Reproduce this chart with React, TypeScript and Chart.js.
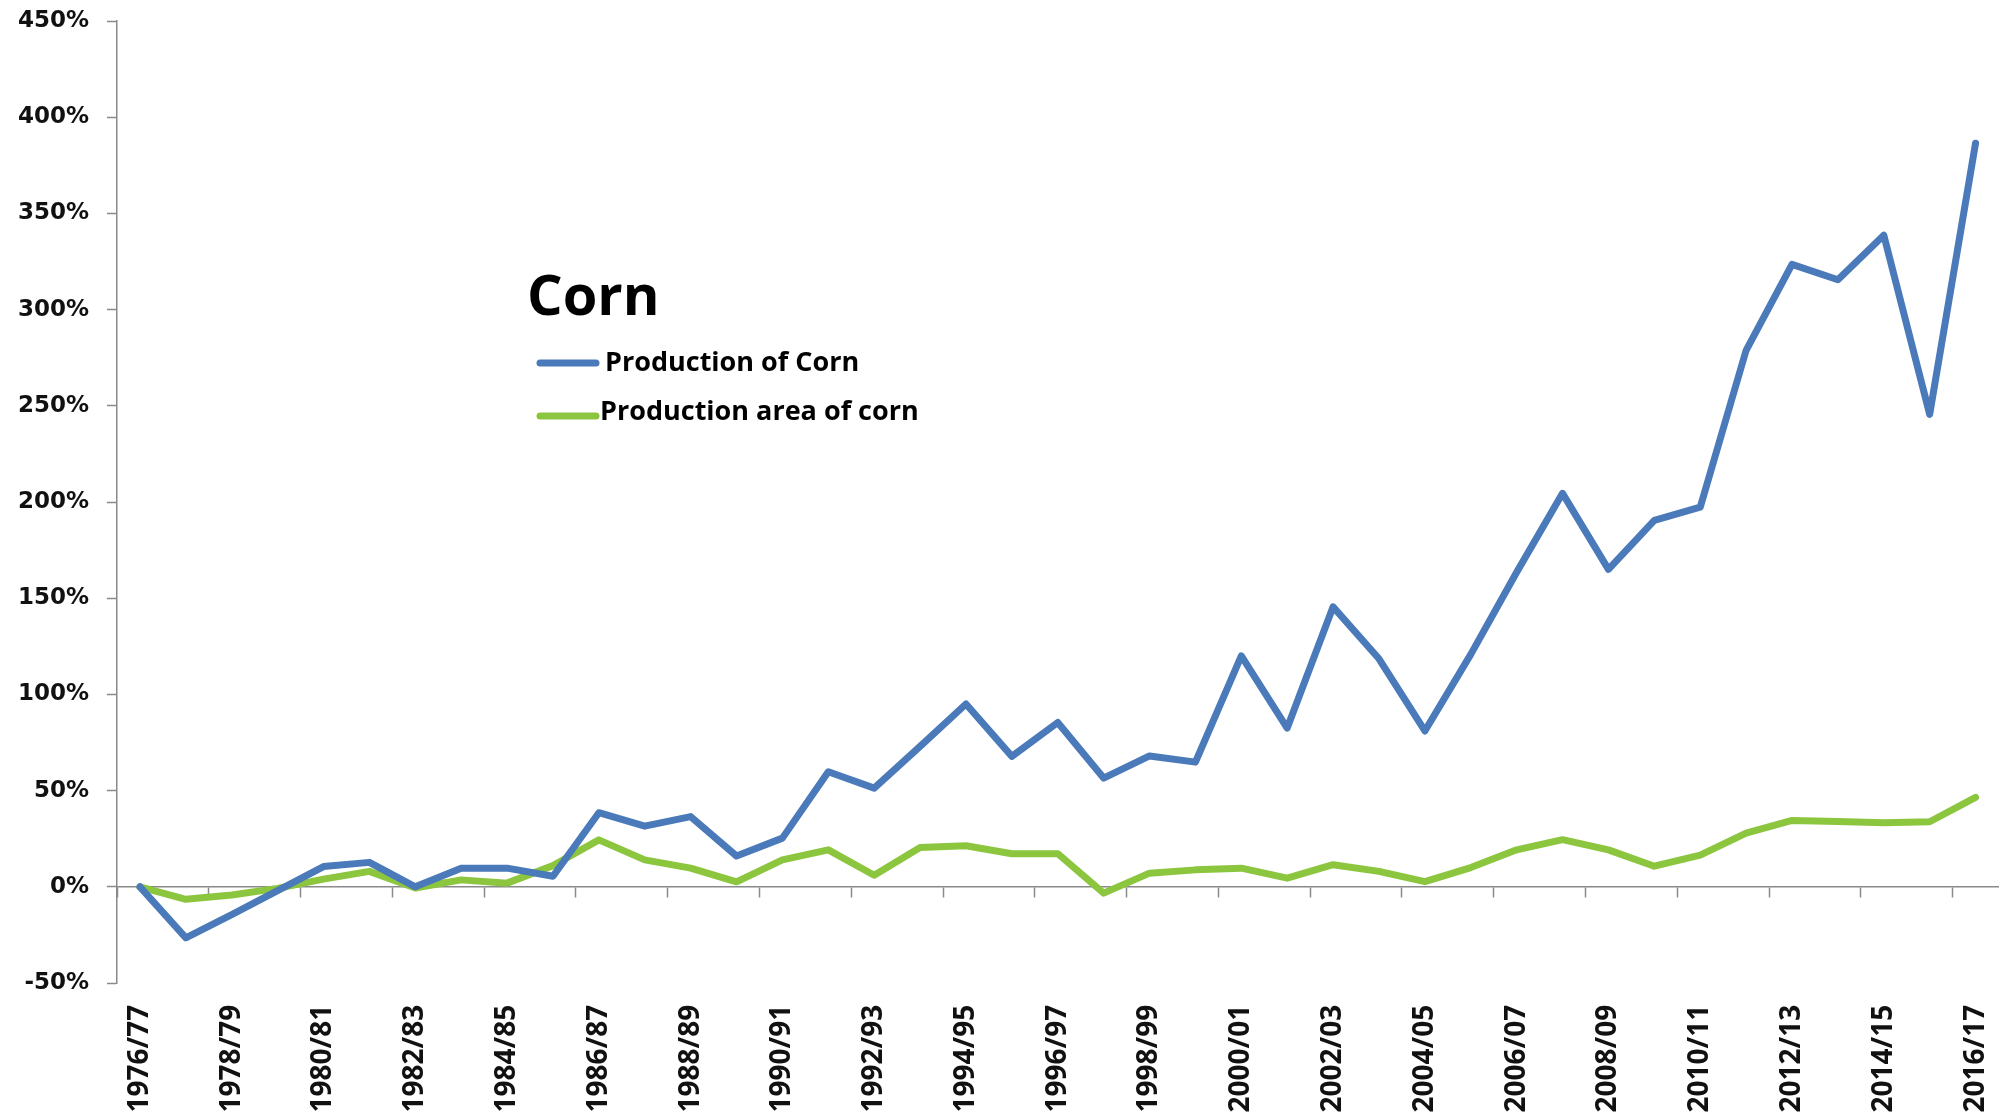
import React, { useEffect, useRef } from "react";
import { Chart, registerables } from "chart.js";

Chart.register(...registerables);

const categories = [
  "1976/77", "1977/78", "1978/79", "1979/80", "1980/81", "1981/82", "1982/83",
  "1983/84", "1984/85", "1985/86", "1986/87", "1987/88", "1988/89", "1989/90",
  "1990/91", "1991/92", "1992/93", "1993/94", "1994/95", "1995/96", "1996/97",
  "1997/98", "1998/99", "1999/00", "2000/01", "2001/02", "2002/03", "2003/04",
  "2004/05", "2005/06", "2006/07", "2007/08", "2008/09", "2009/10", "2010/11",
  "2011/12", "2012/13", "2013/14", "2014/15", "2015/16", "2016/17",
];

const productionOfCorn = [
  0, -26.5, -14.5, -2, 10.5, 12.7, 0, 9.6, 9.7, 5.5, 38.5, 31.5, 36.5, 16, 25.3,
  59.8, 51.3, 73, 95, 67.8, 85.4, 56.5, 68, 64.8, 120, 82.5, 145.5, 118.5, 81,
  120.8, 163.5, 204.5, 165, 190.5, 197.3, 278.8, 323.5, 315.5, 338.7, 245.5, 386.5,
];

const productionAreaOfCorn = [
  0, -6.5, -4.3, -0.8, 4, 8, -0.6, 3.6, 1.9, 11, 24.4, 14, 9.7, 2.6, 14, 19.2, 6,
  20.4, 21.3, 17.2, 17.2, -3.3, 7.1, 8.8, 9.7, 4.5, 11.5, 8, 2.7, 10, 19.2, 24.5,
  19.2, 10.7, 16.5, 27.9, 34.5, 34, 33.3, 33.8, 46.5,
];

const seriesNames = ["Production of Corn", "Production area of corn"];
const chartTitle = "Corn";
const yTicks = { min: -50, max: 450, step: 50 };

const BLUE = "#4a7ab9";
const GREEN = "#8cc63f";
const AXIS = "#8a8a8a";

const titleLegendPlugin = {
  id: "titleLegend",
  afterDraw(chart: any) {
    const ctx = chart.ctx;
    ctx.save();
    ctx.fillStyle = "#000";
    ctx.textAlign = "left";
    ctx.textBaseline = "alphabetic";
    ctx.font = 'bold 56px "Open Sans"';
    ctx.fillText(chartTitle, 527, 315);
    const items = [
      { x1: 540, x2: 596, y: 363, tx: 605, ty: 371 },
      { x1: 540, x2: 596, y: 416, tx: 600, ty: 420 },
    ];
    chart.data.datasets.forEach((ds: any, i: number) => {
      const it = items[i];
      ctx.strokeStyle = ds.borderColor;
      ctx.lineWidth = 7;
      ctx.lineCap = "round";
      ctx.beginPath();
      ctx.moveTo(it.x1, it.y);
      ctx.lineTo(it.x2, it.y);
      ctx.stroke();
      ctx.fillStyle = "#000";
      ctx.font = 'bold 27px "Open Sans"';
      ctx.fillText(ds.label, it.tx, it.ty);
    });
    ctx.restore();
  },
};

export default function App() {
  const ref = useRef<HTMLCanvasElement>(null);

  useEffect(() => {
    document.body.style.margin = "0";
    const canvas = ref.current!;
    const chart = new Chart(canvas, {
      type: "line",
      data: {
        labels: categories,
        datasets: [
          {
            label: seriesNames[0],
            data: productionOfCorn,
            borderColor: BLUE,
            backgroundColor: BLUE,
            borderWidth: 7,
            pointRadius: 0,
            tension: 0,
            borderJoinStyle: "round",
            borderCapStyle: "round",
          },
          {
            label: seriesNames[1],
            data: productionAreaOfCorn,
            borderColor: GREEN,
            backgroundColor: GREEN,
            borderWidth: 7,
            pointRadius: 0,
            tension: 0,
            borderJoinStyle: "round",
            borderCapStyle: "round",
          },
        ],
      },
      options: {
        animation: false,
        responsive: false,
        devicePixelRatio: 1,
        layout: { padding: { top: 21, right: 0, bottom: 135, left: 0 } },
        plugins: {
          legend: { display: false },
          title: { display: false },
          tooltip: { enabled: false },
        },
        scales: {
          x: {
            type: "category",
            position: { y: 0 } as any,
            offset: true,
            afterFit: (s: any) => {
              s.paddingLeft = 0;
              s.paddingRight = 0;
              s.paddingTop = 0;
              s.paddingBottom = 0;
            },
            grid: {
              offset: true,
              drawOnChartArea: false,
              drawTicks: true,
              tickLength: 10,
              tickWidth: 1.5,
              tickColor: (c: any) => (c.index % 2 === 0 ? AXIS : "rgba(0,0,0,0)"),
              color: "rgba(0,0,0,0)",
            },
            border: { display: true, color: AXIS, width: 1.5 },
            ticks: {
              autoSkip: false,
              minRotation: 90,
              maxRotation: 90,
              padding: 108,
              color: "#111",
              font: { family: '"Open Sans"', size: 28, weight: "bold" },
              callback: (_v: any, i: number) => (i % 2 === 0 ? categories[i] : ""),
            },
          },
          y: {
            min: yTicks.min,
            max: yTicks.max,
            afterFit: (s: any) => {
              s.width = 117;
              s.paddingTop = 0;
              s.paddingBottom = 0;
            },
            grid: {
              drawOnChartArea: false,
              drawTicks: true,
              tickLength: 10,
              tickWidth: 1.5,
              tickColor: AXIS,
              color: "rgba(0,0,0,0)",
            },
            border: { display: true, color: AXIS, width: 1.5 },
            ticks: {
              stepSize: yTicks.step,
              padding: 18,
              color: "#111",
              font: { family: '"DejaVu Sans"', size: 23, weight: "bold" },
              callback: (v: any) => `${v}%`,
            },
          },
        },
      },
      plugins: [titleLegendPlugin],
    });
    if ((document as any).fonts && (document as any).fonts.ready) {
      (document as any).fonts.ready.then(() => {
        try { chart.update(); } catch (e) {}
      });
    }
    return () => chart.destroy();
  }, []);

  return (
    <div style={{ position: "fixed", left: 0, top: 0, width: 2002, height: 1118, background: "#fff" }}>
      <canvas ref={ref} width={2002} height={1118} style={{ display: "block", width: 2002, height: 1118 }} />
    </div>
  );
}
